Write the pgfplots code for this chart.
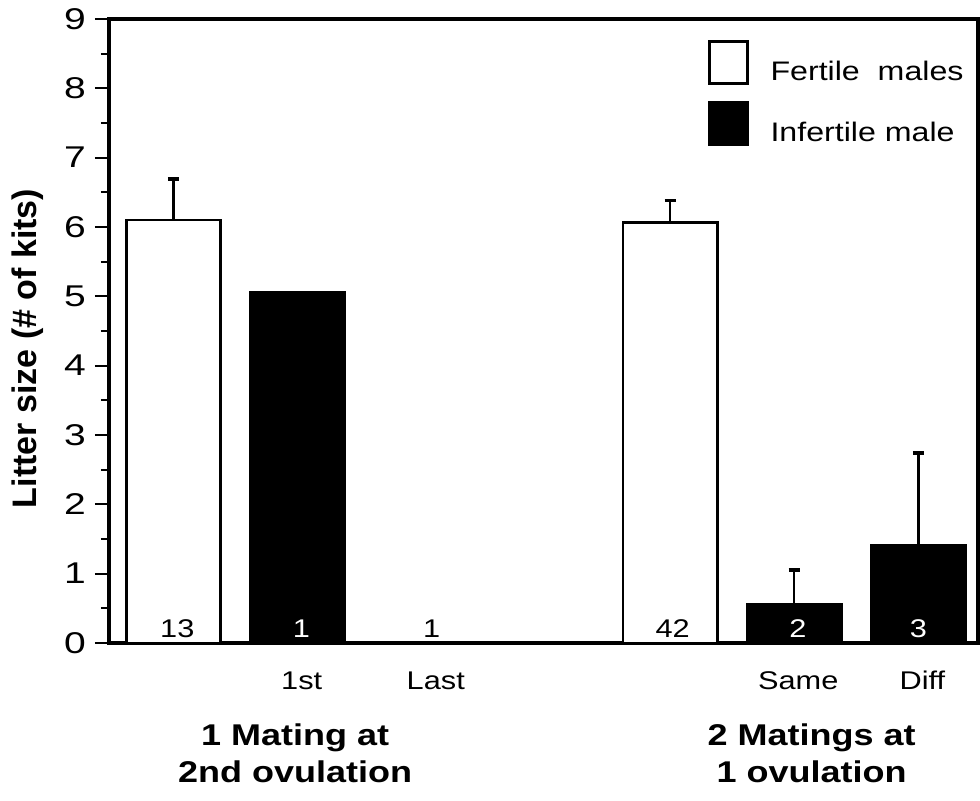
\documentclass[border=0pt]{standalone}
\usepackage{fontspec}
\setmainfont{Liberation Sans}[FakeStretch=1.2]
\newfontfamily\digitfont{Liberation Sans}[FakeStretch=1.3]
\newfontfamily\labelfont{Liberation Sans}
\usepackage{pgfplots}
\usepackage{pgfplotstable}
\pgfplotsset{compat=1.18}

% litter size: mean and upper error (SE)
\pgfplotstableread{
x y err
0 6.10 0.59
4 6.07 0.31
}\fertile
\pgfplotstableread{
x y err
5 0.56 0.49
6 1.41 1.33
}\infertile
\pgfplotstableread{
x y
1 5.05
}\infertilefirst

\begin{document}
\begin{tikzpicture}
\begin{axis}[
  name=ax,
  scale only axis,
  width=434.5pt, height=312pt,
  xmin=-0.52, xmax=6.48,
  ymin=0, ymax=9,
  clip=false,
  axis line style={line width=1.6pt},
  ytick={0,1,...,9},
  minor y tick num=1,
  ytick pos=left,
  ytick align=outside,
  major tick length=7pt,
  minor tick length=4pt,
  tick style={line width=1.1pt, black},
  yticklabel style={font=\digitfont\fontsize{15}{17}\selectfont, xshift=-1pt,
    /pgf/number format/assume math mode=true},
  xtick={1,2.08,5,6},
  xticklabels={1st,Last,Same,Diff},
  xtick align=inside,
  xtick style={draw=none},
  xticklabel style={font=\fontsize{12.8}{14}\selectfont, text height=9.2pt, text depth=0pt,
    yshift=-10.3pt, xshift=2pt},
  ylabel={Litter size (\# of kits)},
  ylabel style={font=\labelfont\bfseries\fontsize{17}{20}\selectfont,
    at={(axis description cs:-0.093,0.472)}, anchor=center},
  legend style={at={(0.689,0.966)}, anchor=north west, draw=none, fill=none,
    inner sep=0pt, outer sep=0pt, nodes={inner sep=0pt},
    row sep=8pt, column sep=11pt,
    font=\fontsize{13.4}{15}\selectfont},
  legend cell align=left,
  legend image code/.code={\draw[#1,/tikz/.cd,line width=1.4pt] (0pt,-5.5pt) rectangle (19pt,15.5pt);},
]
\addplot[ybar, bar width=0.76, bar shift=0pt, draw=black, fill=white, line width=1.4pt,
  error bars/.cd, y dir=plus, y explicit, error mark=|,
  error bar style={line width=1.2pt, black},
  error mark options={line width=1.7pt, mark size=2.8pt, black}]
  table[x=x, y=y, y error=err] {\fertile};
\addlegendentry{Fertile\ \ males}
\addplot[ybar, bar width=0.76, bar shift=0pt, draw=black, fill=black, line width=1.4pt,
  error bars/.cd, y dir=plus, y explicit, error mark=|,
  error bar style={line width=1.2pt, black},
  error mark options={line width=1.7pt, mark size=2.8pt, black}]
  table[x=x, y=y, y error=err] {\infertile};
\addlegendentry{Infertile male}
\addplot[ybar, bar width=0.76, bar shift=0pt, draw=black, fill=black, line width=1.4pt, forget plot]
  table[x=x, y=y] {\infertilefirst};

% number of litters per group
\begin{scope}[every node/.style={anchor=base, inner sep=0pt, font=\fontsize{12.8}{14}\selectfont}]
\node[yshift=2.5pt] at (axis cs:0.03,0) {13};
\node[yshift=2.5pt, text=white] at (axis cs:1.03,0) {1};
\node[yshift=2.5pt] at (axis cs:2.08,0) {1};
\node[yshift=2.5pt] at (axis cs:4.02,0) {42};
\node[yshift=2.5pt, text=white] at (axis cs:5.03,0) {2};
\node[yshift=2.5pt, text=white] at (axis cs:6.0,0) {3};
\end{scope}

% group captions
\node[anchor=north, align=center, inner sep=0pt, yshift=-40pt,
  font=\bfseries\fontsize{15}{18.5}\selectfont] at (axis cs:0.98,0) {1 Mating at\\2nd ovulation};
\node[anchor=north, align=center, inner sep=0pt, yshift=-40pt,
  font=\bfseries\fontsize{15}{18.5}\selectfont] at (axis cs:5.14,0) {2 Matings at\\1 ovulation};
\end{axis}
\pgfresetboundingbox
\path ([shift={(-54.5pt,-79pt)}]ax.south west) rectangle ([shift={(1pt,9.5pt)}]ax.north east);
\end{tikzpicture}
\end{document}
